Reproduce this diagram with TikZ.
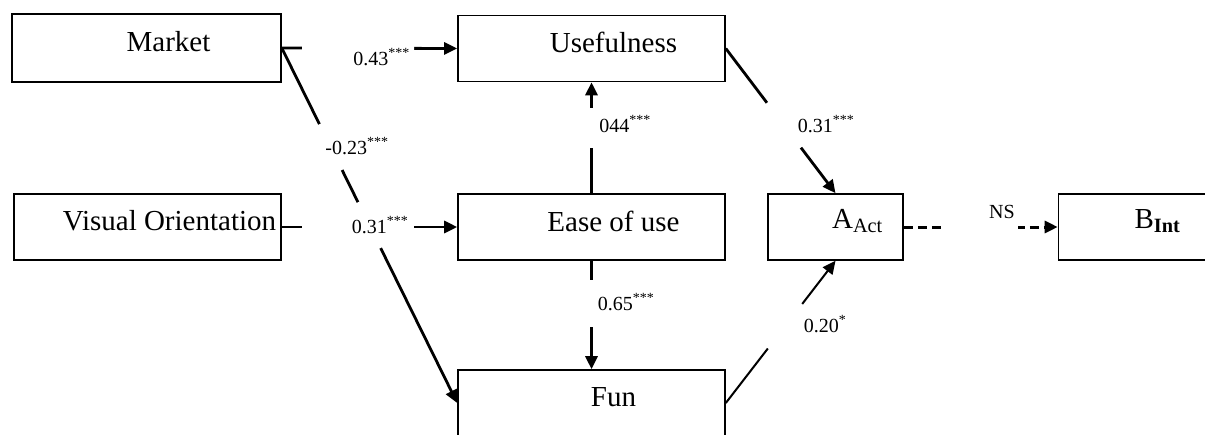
\documentclass[tikz,border=0pt]{standalone}
\usepackage{fontspec}
\setmainfont{Liberation Serif}
\usetikzlibrary{arrows.meta,positioning}
\tikzstyle{construct}=[draw=black,line width=1.6pt,minimum width=267pt,minimum height=66pt,inner sep=0pt]
\tikzstyle{boxtext}=[font=\fontsize{29}{32}\selectfont,inner sep=0pt,xshift=22pt,yshift=6pt]
\tikzstyle{pathedge}=[-{Triangle[length=13pt,width=12pt]},line width=2.8pt,black]
\tikzstyle{nsedge}=[pathedge,line width=3pt,dash pattern=on 9pt off 5pt]
\tikzstyle{gap}=[fill=white,inner sep=0pt,minimum height=9pt,sloped]
\tikzstyle{coef}=[font=\fontsize{20}{22}\selectfont,inner sep=0pt]

\begin{document}
\begin{tikzpicture}[x=1pt,y=-1pt]
\useasboundingbox (0,0) rectangle (1205,434);

	% Antecedents
    \node[construct, minimum width=269pt, minimum height=68pt, label={[boxtext]center:Market}] (M) at (146.5,48) {};
    \node[construct, label={[boxtext]center:Visual Orientation}] (VO) at (147.5,227) {};

	% Perceived qualities
    \node[construct, label={[boxtext]center:Usefulness}] (U) at (591.5,48.5) {};
    \node[construct, label={[boxtext]center:Ease of use}] (E) at (591.5,227) {};
    \node[construct, label={[boxtext]center:Fun}] (F) at (591.5,403) {};

	% Attitude and intention
    \node[construct, minimum width=135pt, label={[boxtext]center:A\textsubscript{Act}}] (A) at (835.5,227) {};
    \node[construct, minimum width=154pt, label={[boxtext]center:B\textsubscript{\textbf{Int}}}] (B) at (1135.5,227) {};

	% Antecedents -> qualities
    \draw[pathedge] (M.east) -- node[gap, pos=0.435, minimum width=112pt]{} (U.west);
    \draw[pathedge] (VO.east) -- node[gap, pos=0.435, minimum width=112pt]{} (E.west);
    \draw[pathedge] (M.east) -- node[gap, pos=0.279, minimum width=51pt]{} node[gap, pos=0.499, minimum width=51pt]{} (F.west);

    \draw[pathedge] (E.north) -- node[gap, pos=0.59, minimum width=40pt]{} (U.south);
    \draw[pathedge] (E.south) -- node[gap, pos=0.395, minimum width=47pt]{} (F.north);

	% Qualities -> attitude -> intention
    \draw[pathedge] (U.east) -- node[gap, pos=0.53, minimum width=56pt]{} (A.north);
    \draw[pathedge, line width=2pt] (F.east) -- node[gap, pos=0.54, minimum width=56pt]{} (A.south);
    \draw[nsedge] (A.east) -- node[gap, pos=0.506, minimum width=73pt]{} (B.west);

	% Path coefficients
    \foreach \name/\x/\y/\val in {MU/381.5/57/0.43, MF/357/146/-0.23, VE/380/225/0.31, EU/625/124/044, EF/626/302/0.65, UA/826/124/0.31}
        \node[coef] (c-\name) at (\x,\y) {\val\textsuperscript{***}};
    \node[coef] (c-FA) at (825,324) {0.20\textsuperscript{*}};
    \node[coef] (c-AB) at (1002,212) {NS};

\end{tikzpicture}
\end{document}
